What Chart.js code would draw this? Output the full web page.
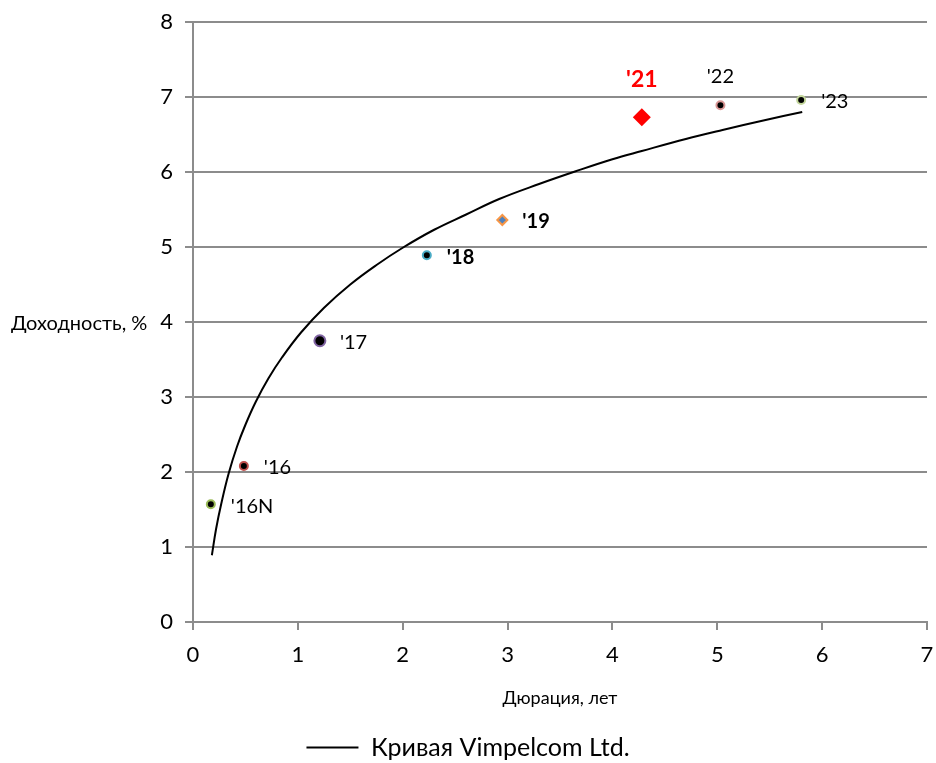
<!DOCTYPE html>
<html>
<head>
<meta charset="utf-8">
<script src="https://cdn.jsdelivr.net/npm/chart.js@4.4.1/dist/chart.umd.min.js"></script>
<style>
  html, body { margin: 0; padding: 0; background: #fff; }
  #wrap { width: 936px; height: 763px; }
</style>
</head>
<body>
<div id="wrap"><canvas id="grafico"></canvas></div>
<script>
// кривая доходности
const curveX = [0.18, 0.22, 0.27, 0.34, 0.42, 0.50, 0.60, 0.72, 0.85, 1.03, 1.25, 1.50, 1.75, 2.00, 2.30, 2.60, 2.92, 3.30, 3.65, 4.00, 4.28, 4.70, 5.05, 5.45, 5.81];
const curveY = [0.89, 1.24, 1.58, 1.98, 2.34, 2.63, 2.94, 3.25, 3.53, 3.86, 4.19, 4.50, 4.76, 4.99, 5.23, 5.43, 5.64, 5.84, 6.01, 6.17, 6.28, 6.44, 6.56, 6.69, 6.80];

// выпуски
const bondNames = ["'16N", "'16", "'17", "'18", "'19", "'21", "'22", "'23"];
const bondDur   = [0.17, 0.485, 1.21, 2.23, 2.95, 4.28, 5.03, 5.80];
const bondYield = [1.57, 2.08, 3.75, 4.89, 5.36, 6.73, 6.89, 6.96];

const xTicks = [0, 1, 2, 3, 4, 5, 6, 7];
const yTicks = [0, 1, 2, 3, 4, 5, 6, 7, 8];

// стиль маркеров
const mStyle  = ['circle', 'circle', 'circle', 'circle', 'rectRot', 'rectRot', 'circle', 'circle'];
const mRadius = [4, 4, 5.5, 4, 5, 9, 4, 4];
const mFill   = ['#000', '#000', '#000', '#000', '#4f81bd', '#ff0000', '#000', '#000'];
const mBorder = ['#9bbb59', '#c0504d', '#8064a2', '#4bacc6', '#f79646', '#ff0000', '#d99694', '#c3d69b'];
const mBW     = [2, 2, 2, 2, 2, 0, 2, 2];
const lblPos  = ['right', 'right', 'right', 'right', 'right', 'top', 'top', 'right'];
const lblBold = [false, false, false, true, true, true, false, false];

const FONT = 'Lato, "Open Sans", sans-serif';
const GRID = '#8c8c8c';

const yTitlePlugin = {
  id: 'yTitle',
  afterDraw(chart) {
    const ctx = chart.ctx;
    const y = chart.scales.y.getPixelForValue(4);
    ctx.save();
    ctx.font = '20px ' + FONT;
    ctx.fillStyle = '#000';
    ctx.textAlign = 'left';
    ctx.textBaseline = 'middle';
    ctx.fillText('Доходность, %', 11, y + 2);
    ctx.restore();
  }
};

const pointLabelPlugin = {
  id: 'pointLabels',
  afterDatasetsDraw(chart) {
    const ctx = chart.ctx;
    const meta = chart.getDatasetMeta(1);
    ctx.save();
    meta.data.forEach((pt, i) => {
      const big = bondNames[i] === "'21";
      ctx.font = (lblBold[i] ? 'bold ' : '') + (big ? '23px ' : '20px ') + FONT;
      ctx.fillStyle = big ? '#ff0000' : '#000';
      ctx.textBaseline = 'middle';
      if (lblPos[i] === 'right') {
        ctx.textAlign = 'left';
        ctx.fillText(bondNames[i], pt.x + 20, pt.y + 2);
      } else {
        ctx.textAlign = 'center';
        ctx.fillText(bondNames[i], pt.x, pt.y - (big ? 38 : 29));
      }
    });
    ctx.restore();
  }
};

const ctx = document.getElementById('grafico').getContext('2d');
new Chart(ctx, {
  type: 'scatter',
  data: {
    datasets: [{
      type: 'line',
      label: 'Кривая Vimpelcom Ltd.',
      data: curveX.map((x, i) => ({ x: x, y: curveY[i] })),
      borderColor: '#000',
      backgroundColor: '#000',
      borderWidth: 2,
      pointRadius: 0,
      tension: 0.4,
      fill: false
    }, {
      label: 'Выпуски',
      data: bondDur.map((x, i) => ({ x: x, y: bondYield[i] })),
      pointStyle: mStyle,
      pointRadius: mRadius,
      pointBackgroundColor: mFill,
      pointBorderColor: mBorder,
      pointBorderWidth: mBW,
      showLine: false
    }]
  },
  options: {
    responsive: true,
    maintainAspectRatio: false,
    animation: false,
    layout: { padding: { left: 0, right: 0, top: 22, bottom: -7 } },
    scales: {
      x: {
        type: 'linear',
        min: 0, max: 7,
        afterBuildTicks: axis => { axis.ticks = xTicks.map(v => ({ value: v })); },
        afterFit: axis => { axis.paddingRight = 5; axis.paddingLeft = 5; },
        ticks: { font: { family: FONT, size: 22 }, color: '#000', padding: 12 },
        grid: { drawOnChartArea: false, drawTicks: true, tickLength: 8, color: GRID, lineWidth: 2 },
        border: { color: GRID, width: 2 },
        title: { display: true, text: 'Дюрация, лет', font: { family: FONT, size: 18 }, color: '#000', padding: { top: 7, bottom: 26 } }
      },
      y: {
        min: 0, max: 8,
        afterBuildTicks: axis => { axis.ticks = yTicks.map(v => ({ value: v })); },
        afterFit: axis => { axis.paddingTop = 0; axis.paddingBottom = 0; axis.width = 193; },
        ticks: { font: { family: FONT, size: 22 }, color: '#000', padding: 12 },
        grid: { color: GRID, lineWidth: 2, tickLength: 8 },
        border: { color: GRID, width: 2 }
      }
    },
    plugins: {
      legend: {
        position: 'bottom',
        labels: {
          filter: item => item.datasetIndex === 0,
          usePointStyle: true,
          pointStyle: 'line',
          pointStyleWidth: 52,
          color: '#000',
          font: { family: FONT, size: 25 },
          padding: 0
        }
      },
      tooltip: { enabled: false }
    }
  },
  plugins: [yTitlePlugin, pointLabelPlugin]
});
</script>
</body>
</html>
